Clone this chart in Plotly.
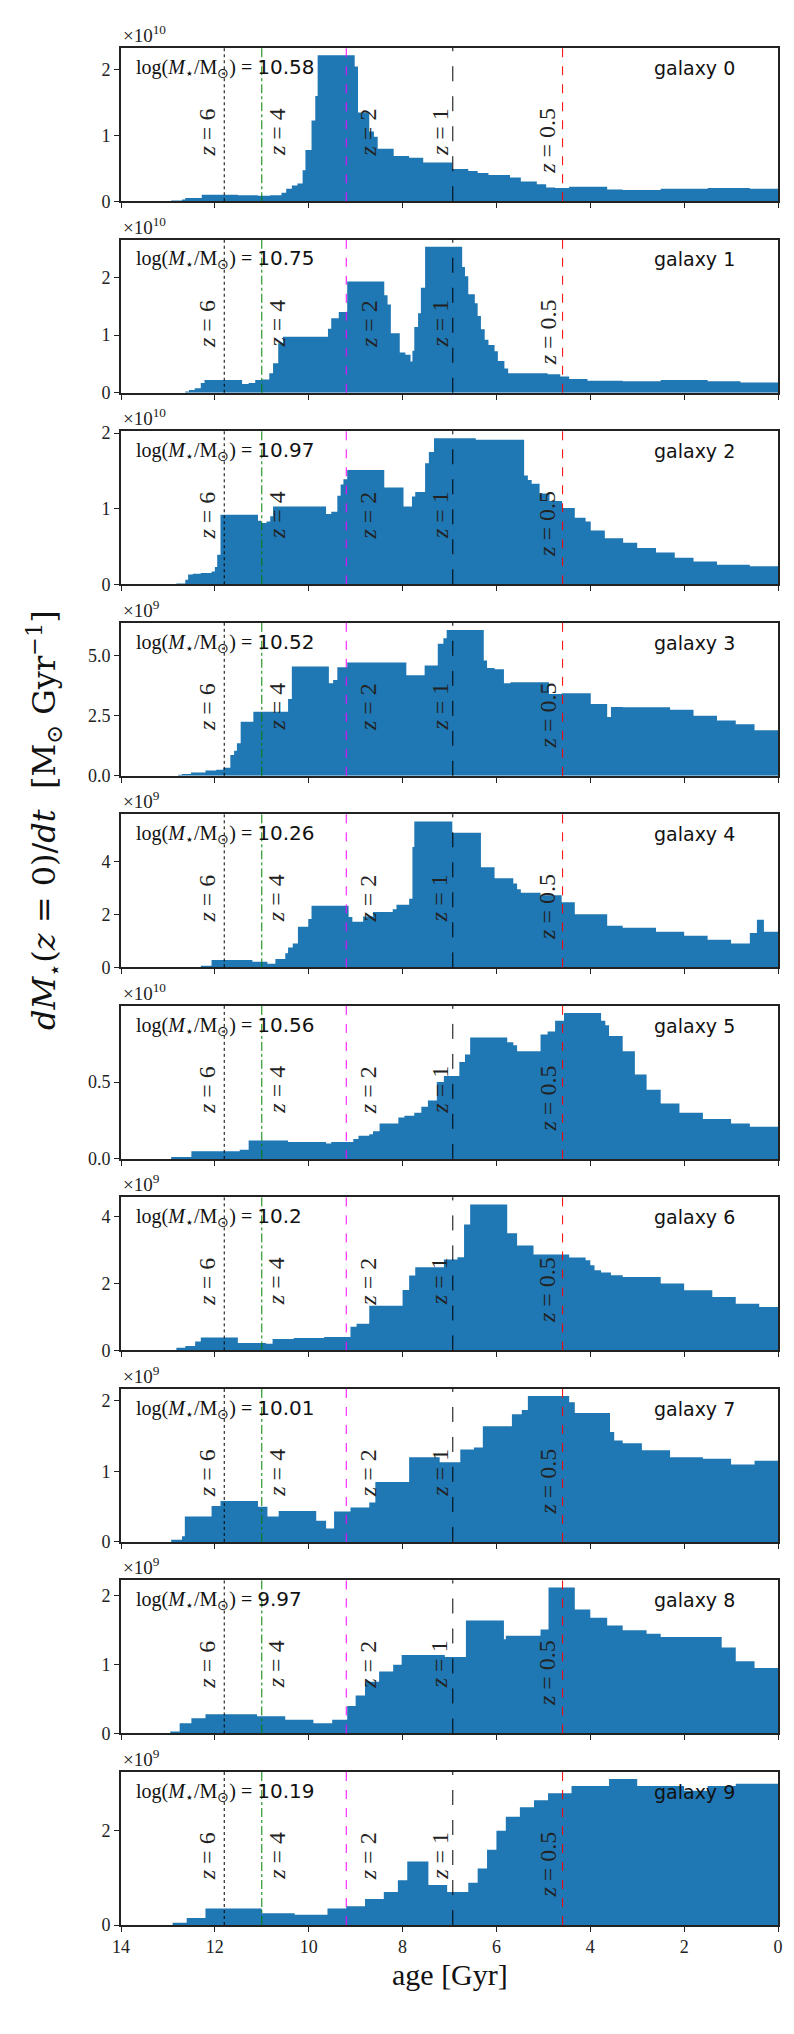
import plotly.graph_objects as go
from plotly.subplots import make_subplots

# ---------------- data (values in units of 10^exp Msun/Gyr) ----------------
exponents = [10, 10, 10, 9, 9, 10, 9, 9, 9, 9]
log_mass = ["10.58", "10.75", "10.97", "10.52", "10.26", "10.56", "10.2", "10.01", "9.97", "10.19"]
y_ticks = [[0, 1, 2], [0, 1, 2], [0, 1, 2], [0.0, 2.5, 5.0], [0, 2, 4],
           [0.0, 0.5, 1.0], [0, 2, 4], [0, 1, 2], [0, 1, 2], [0, 2]]
y_tickfmt = [".0f", ".0f", ".0f", ".1f", ".0f", ".1f", ".0f", ".0f", ".0f", ".0f"]

# bin edges (age in Gyr, old -> young) and heights
age0 = [12.93, 12.70, 12.63, 12.28, 11.51, 11.08, 10.82, 10.58, 10.48, 10.36, 10.24, 10.13, 10.07, 9.94,
        9.86, 9.81, 9.02, 8.95, 8.71, 8.61, 8.53, 8.19, 7.86, 7.56, 6.94, 6.60, 6.40, 6.17, 5.71, 5.48,
        5.14, 4.94, 4.75, 4.45, 3.64, 3.31, 2.5, 1.5, 0.6, 0.0]
sfr0 = [0.01, 0.025, 0.05, 0.10, 0.09, 0.085, 0.09, 0.13, 0.19, 0.24, 0.27, 0.47, 0.78, 1.23, 1.6,
        2.22, 2.05, 1.35, 1.06, 0.98, 0.80, 0.69, 0.66, 0.59, 0.49, 0.46, 0.43, 0.40, 0.36, 0.30,
        0.26, 0.21, 0.20, 0.22, 0.18, 0.17, 0.19, 0.20, 0.19]

age1 = [12.63, 12.55, 12.43, 12.30, 12.22, 11.42, 11.28, 11.14, 11.01, 10.84, 10.76, 10.65, 10.55, 9.59,
        9.52, 9.36, 9.18, 8.39, 8.32, 8.25, 8.06, 7.94, 7.83, 7.79, 7.75, 7.67, 7.61, 7.52, 6.73, 6.67,
        6.60, 6.46, 6.40, 6.33, 6.25, 6.17, 6.04, 5.97, 5.83, 5.75, 4.91, 4.64, 4.45, 4.06, 3.31, 2.5,
        1.5, 0.8, 0.0]
sfr1 = [0.02, 0.05, 0.08, 0.17, 0.22, 0.15, 0.17, 0.22, 0.23, 0.34, 0.51, 0.86, 0.97, 1.11, 1.29,
        1.40, 1.93, 1.69, 1.53, 1.03, 0.70, 0.66, 0.54, 0.73, 1.14, 1.38, 1.82, 2.53, 2.18, 2.02,
        1.71, 1.55, 1.33, 1.10, 0.92, 0.83, 0.72, 0.55, 0.42, 0.34, 0.32, 0.28, 0.24, 0.21, 0.20,
        0.22, 0.20, 0.18]

age2 = [12.82, 12.63, 12.57, 12.47, 12.30, 12.07, 12.00, 11.95, 11.88, 11.08, 11.01, 10.90, 10.82, 10.76,
        9.63, 9.52, 9.39, 9.32, 9.26, 9.18, 8.39, 7.98, 7.80, 7.73, 7.52, 7.44, 7.33, 6.44, 5.41, 5.33,
        5.25, 5.08, 4.87, 4.60, 4.33, 4.10, 3.99, 3.69, 3.30, 3.00, 2.60, 2.20, 1.80, 1.30, 0.60, 0.0]
sfr2 = [0.01, 0.06, 0.13, 0.14, 0.15, 0.17, 0.23, 0.39, 0.92, 0.84, 0.81, 0.83, 0.90, 1.03, 0.93,
        0.96, 1.17, 1.32, 1.39, 1.51, 1.28, 1.03, 1.16, 1.22, 1.60, 1.75, 1.93, 1.91, 1.44, 1.38,
        1.33, 1.20, 1.10, 1.01, 0.88, 0.83, 0.71, 0.61, 0.55, 0.48, 0.42, 0.35, 0.30, 0.26, 0.24]

age3 = [12.78, 12.70, 12.51, 12.20, 11.97, 11.82, 11.67, 11.59, 11.53, 11.45, 11.18, 10.44, 10.36, 9.57,
        9.48, 9.39, 9.18, 7.92, 7.53, 7.25, 7.13, 7.06, 6.27, 6.20, 6.04, 5.84, 5.70, 4.88, 4.61, 3.99,
        3.64, 3.56, 3.31, 2.3, 1.8, 1.3, 0.9, 0.5, 0.0]
sfr3 = [0.04, 0.08, 0.14, 0.22, 0.25, 0.34, 0.87, 1.04, 1.35, 2.25, 2.66, 3.2, 4.55, 3.85, 3.99,
        4.52, 4.71, 4.18, 4.59, 5.49, 5.72, 6.07, 4.80, 4.49, 4.43, 3.85, 3.89, 3.40, 3.43, 2.99,
        2.45, 2.86, 2.85, 2.75, 2.5, 2.3, 2.15, 1.9]

age4 = [12.30, 12.07, 11.20, 10.88, 10.71, 10.50, 10.44, 10.34, 10.23, 10.01, 9.94, 9.15, 9.07, 8.84,
        8.63, 8.21, 8.13, 7.86, 7.79, 7.75, 6.94, 6.33, 6.04, 5.64, 5.56, 5.48, 5.06, 4.61, 4.33, 3.64,
        3.31, 2.6, 2.0, 1.5, 1.0, 0.6, 0.45, 0.3, 0.0]
sfr4 = [0.06, 0.28, 0.21, 0.14, 0.32, 0.53, 0.75, 0.90, 1.54, 1.83, 2.33, 1.91, 1.73, 1.93, 2.10,
        2.20, 2.37, 2.60, 4.56, 5.53, 5.10, 3.79, 3.38, 3.18, 2.96, 2.83, 2.73, 2.47, 2.01, 1.58,
        1.5, 1.35, 1.2, 1.05, 0.9, 1.3, 1.8, 1.35]

age5 = [12.93, 12.50, 11.47, 11.28, 10.44, 9.63, 9.52, 9.05, 8.94, 8.71, 8.63, 8.49, 8.09, 7.96, 7.75,
        7.60, 7.46, 7.27, 7.12, 6.79, 6.67, 6.56, 5.77, 5.64, 5.56, 5.06, 4.91, 4.75, 4.56, 3.77, 3.68,
        3.60, 3.31, 3.05, 2.8, 2.5, 2.1, 1.6, 1.0, 0.6, 0.0]
sfr5 = [0.012, 0.05, 0.06, 0.12, 0.11, 0.10, 0.11, 0.13, 0.15, 0.16, 0.18, 0.23, 0.27, 0.28, 0.30,
        0.34, 0.38, 0.50, 0.54, 0.63, 0.68, 0.79, 0.76, 0.74, 0.70, 0.81, 0.83, 0.90, 0.95, 0.90,
        0.87, 0.80, 0.70, 0.55, 0.45, 0.36, 0.30, 0.26, 0.23, 0.21]

age6 = [12.82, 12.63, 12.42, 12.30, 11.51, 10.91, 10.77, 10.32, 9.67, 9.11, 8.98, 8.71, 8.00, 7.86, 7.73,
        7.12, 6.83, 6.69, 6.56, 5.77, 5.56, 5.21, 4.45, 4.10, 4.00, 3.91, 3.77, 3.56, 3.31, 2.5, 2.0,
        1.4, 0.9, 0.4, 0.0]
sfr6 = [0.08, 0.13, 0.27, 0.39, 0.22, 0.20, 0.34, 0.37, 0.40, 0.71, 0.80, 1.34, 1.81, 2.24, 2.49,
        2.72, 2.79, 3.77, 4.37, 3.51, 3.14, 2.87, 2.78, 2.70, 2.55, 2.40, 2.33, 2.25, 2.2, 2.0, 1.8,
        1.6, 1.4, 1.3]

age7 = [12.93, 12.70, 12.64, 12.07, 11.88, 11.08, 10.88, 10.64, 9.84, 9.63, 9.46, 9.11, 8.71, 8.58,
        7.86, 7.21, 6.77, 6.48, 6.29, 5.67, 5.46, 5.33, 4.45, 4.33, 3.58, 3.49, 3.31, 2.9, 2.3, 1.6,
        1.0, 0.5, 0.0]
sfr7 = [0.03, 0.08, 0.36, 0.51, 0.58, 0.50, 0.36, 0.44, 0.30, 0.19, 0.43, 0.49, 0.56, 0.85, 1.20,
        1.13, 1.31, 1.34, 1.64, 1.81, 1.87, 2.07, 1.98, 1.83, 1.56, 1.44, 1.40, 1.30, 1.20, 1.18,
        1.10, 1.15]

age8 = [12.95, 12.75, 12.5, 12.2, 11.1, 10.5, 9.9, 9.5, 9.18, 9.0, 8.8, 8.5, 8.2, 8.02, 7.10, 6.65,
        5.84, 5.80, 5.06, 4.89, 4.33, 4.00, 3.64, 3.31, 2.8, 2.5, 1.2, 0.9, 0.5, 0.0]
sfr8 = [0.03, 0.15, 0.22, 0.28, 0.25, 0.20, 0.15, 0.20, 0.40, 0.55, 0.75, 0.90, 1.0, 1.14, 1.11,
        1.64, 1.37, 1.42, 1.51, 2.12, 1.80, 1.68, 1.57, 1.5, 1.45, 1.4, 1.25, 1.05, 0.95]

age9 = [12.9, 12.6, 12.2, 11.0, 10.3, 9.6, 9.2, 8.8, 8.4, 8.1, 7.9, 7.45, 7.05, 6.6, 6.4, 6.2, 6.0, 5.8,
        5.5, 5.2, 4.9, 4.4, 3.6, 3.0, 2.0, 1.5, 0.9, 0.0]
sfr9 = [0.05, 0.15, 0.35, 0.25, 0.22, 0.35, 0.40, 0.55, 0.70, 0.95, 1.35, 0.85, 0.70, 0.90, 1.20,
        1.60, 2.0, 2.3, 2.5, 2.65, 2.8, 2.95, 3.1, 2.95, 2.85, 2.95, 3.0]

ages = [age0, age1, age2, age3, age4, age5, age6, age7, age8, age9]
sfrs = [sfr0, sfr1, sfr2, sfr3, sfr4, sfr5, sfr6, sfr7, sfr8, sfr9]

# redshift markers
z_labels = ["6", "4", "2", "1", "0.5"]
z_ages = [11.80, 11.00, 9.20, 6.93, 4.59]
z_colors = ["black", "green", "magenta", "black", "red"]
z_dashes = ["dot", "dashdot", "dash", "longdash", "dash"]
z_label_shift = [-17, 15, 22, -13, -15]   # px offset of label from its line

x_ticks = [14, 12, 10, 8, 6, 4, 2, 0]

# ---------------- figure ----------------
W, H = 794, 2034
L, R, T, B = 113, 24, 40, 117
N = 10
SERIF = "Liberation Serif"
SERIF_WIDE = "DejaVu Serif"
SANS = "DejaVu Sans"
BLUE = "#1f77b4"
PW = W - L - R
PH = H - T - B

fig = make_subplots(rows=N, cols=1, vertical_spacing=0.0204)

for i in range(N):
    r = i + 1
    xs = list(ages[i])
    ys = list(sfrs[i]) + [sfrs[i][-1]]
    fig.add_trace(go.Scatter(x=[14] + xs, y=[0] + ys, mode="lines", line=dict(width=0, shape="hv"),
                             fill="tozeroy", fillcolor=BLUE, hoverinfo="skip", showlegend=False),
                  row=r, col=1)
    ymax = max(sfrs[i]) * 1.05
    xa = "x" if i == 0 else f"x{r}"
    ya = "y" if i == 0 else f"y{r}"
    fig.update_xaxes(range=[14, 0], tickvals=x_ticks, ticks="outside", ticklen=5, tickwidth=1.2,
                     tickcolor="#222", showline=True, linecolor="#222", linewidth=1.6, mirror=True,
                     showgrid=False, zeroline=False, showticklabels=(i == N - 1),
                     tickfont=dict(family=SERIF, size=18, color="#222"), row=r, col=1)
    fig.update_yaxes(range=[0, ymax], tickvals=y_ticks[i], tickformat=y_tickfmt[i], ticks="outside",
                     ticklen=5, tickwidth=1.2, tickcolor="#222", showline=True, linecolor="#222",
                     linewidth=1.6, mirror=True, showgrid=False, zeroline=False,
                     tickfont=dict(family=SERIF, size=18, color="#222"), row=r, col=1)
    # redshift lines
    for k in range(len(z_ages)):
        fig.add_shape(type="line", xref=xa, yref=f"{ya} domain", x0=z_ages[k], x1=z_ages[k], y0=0, y1=1,
                      line=dict(color=z_colors[k], width=1, dash=z_dashes[k]))
        fig.add_annotation(xref=xa, yref=f"{ya} domain", x=z_ages[k], y=0.62, xshift=z_label_shift[k],
                           text=f"<i>z</i> = {z_labels[k]}", textangle=-90, showarrow=False,
                           xanchor="center", yanchor="top",
                           font=dict(family=SERIF, size=24, color="#222"))
    # offset text
    fig.add_annotation(xref=f"{xa} domain", yref=f"{ya} domain", x=0, y=1, yshift=0,
                       text=f"×10<sup>{exponents[i]}</sup>", showarrow=False, xanchor="left",
                       yanchor="bottom", font=dict(family=SERIF, size=19, color="#222"))
    # mass label
    fig.add_annotation(xref=f"{xa} domain", yref=f"{ya} domain", x=0.02, y=0.87,
                       text=(f"log(<i>M</i><sub>⋆</sub>/M<sub>⊙</sub>) = "
                             f"<span style='font-family:{SANS}'>{log_mass[i]}</span>"),
                       showarrow=False, xanchor="left", yanchor="middle",
                       font=dict(family=SERIF, size=20, color="#111"))
    # galaxy label
    fig.add_annotation(xref=f"{xa} domain", yref=f"{ya} domain", x=0.937, y=0.87,
                       text=f"galaxy {i}", showarrow=False, xanchor="right", yanchor="middle",
                       font=dict(family=SANS, size=19, color="#111"))

# axis titles
fig.add_annotation(xref="paper", yref="paper", x=0.5, y=-50 / PH, yanchor="middle",
                   text="age [Gyr]", showarrow=False, font=dict(family=SERIF, size=30, color="#111"))
fig.add_annotation(xref="paper", yref="paper", x=(36 - L) / PW, y=(H - B - 812) / PH, xanchor="center",
                   yanchor="middle", textangle=-90,
                   text="<i>dM</i><sub>⋆</sub>(<i>z</i> = 0)/<i>dt</i>  [M<sub>⊙</sub> Gyr<sup>−1</sup>]",
                   showarrow=False, font=dict(family=SERIF_WIDE, size=32, color="#111"))

fig.update_layout(width=W, height=H, margin=dict(l=L, r=R, t=T, b=B),
                  paper_bgcolor="white", plot_bgcolor="white", showlegend=False)

fig.write_html("out.html")
